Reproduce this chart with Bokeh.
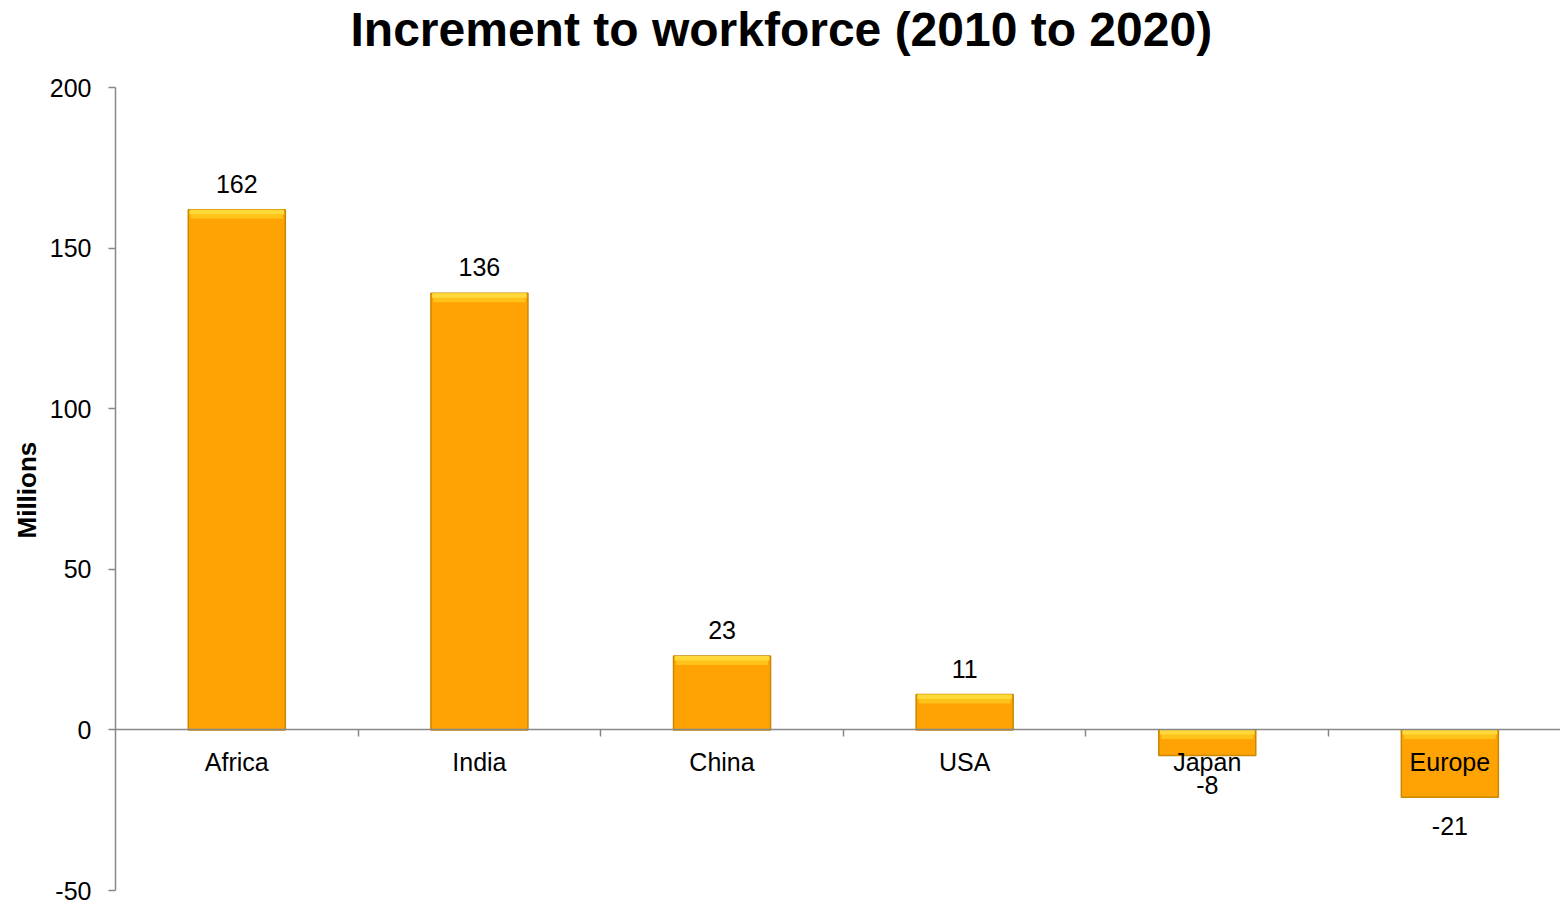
from bokeh.plotting import figure
from bokeh.models import ColumnDataSource, FixedTicker, LinearAxis, Range1d, Title
from bokeh.embed import file_html
from bokeh.resources import INLINE
from bokeh.core.properties import value

title_text = "Increment to workforce (2010 to 2020)"
y_label = "Millions"
categories = ["Africa", "India", "China", "USA", "Japan", "Europe"]
increments = [162, 136, 23, 11, -8, -21]
y_ticks = [-50, 0, 50, 100, 150, 200]

FONT = "Liberation Sans"
x_pos = [i + 0.5 for i in range(len(categories))]
labels = [str(v) for v in increments]
label_offsets = [-17 if v >= 0 else 20 for v in increments]
label_baselines = ["bottom" if v >= 0 else "top" for v in increments]
edge = [v if v >= 0 else 0 for v in increments]
hl1_bottom = [t - 1.4 for t in edge]
hl2_bottom = [t - 2.8 for t in edge]

src = ColumnDataSource(dict(x=x_pos, top=increments, label=labels, yoff=label_offsets,
                            base=label_baselines, edge=edge, hl1b=hl1_bottom, hl2b=hl2_bottom))

p = figure(width=1560, height=905, output_backend="svg", toolbar_location=None,
           x_range=Range1d(0, 5.956), y_range=Range1d(-50, 210),
           min_border_left=115, min_border_right=0, min_border_top=0, min_border_bottom=15,
           x_axis_location=None, title=title_text)
p.title.text_font = FONT
p.title.text_font_size = "48px"
p.title.text_font_style = "bold"
p.title.text_color = "black"
p.title.align = "left"
p.title.offset = 235
p.title.standoff = 0
p.outline_line_color = None
p.xgrid.visible = False
p.ygrid.visible = False
p.background_fill_color = "white"
p.border_fill_color = "white"

# bars
p.vbar(x="x", top="top", bottom=0, width=0.4, source=src,
       fill_color="#FFA305", line_color="#C98800", line_width=1.5)
# bevel highlight at the top edge
p.vbar(x="x", top="edge", bottom="hl2b", width=0.38, source=src,
       fill_color="#FFC21A", line_color=None)
p.vbar(x="x", top="edge", bottom="hl1b", width=0.39, source=src,
       fill_color="#FFD93A", line_color=None)

# value labels
p.text(x="x", y="top", text="label", source=src, y_offset="yoff", text_baseline="base",
       text_align="center", text_font=value(FONT), text_font_size="25px", text_color="black")

# y axis
yax = p.yaxis[0]
yax.ticker = FixedTicker(ticks=y_ticks)
yax.bounds = (min(y_ticks), max(y_ticks))
yax.major_label_overrides = {t: str(t) for t in y_ticks}
yax.minor_tick_line_color = None
yax.major_tick_in = 0
yax.major_tick_out = 7
yax.axis_line_color = "#878787"
yax.major_tick_line_color = "#878787"
yax.axis_line_width = 1.5
yax.major_tick_line_width = 1.5
yax.major_label_text_font = FONT
yax.major_label_text_font_size = "25px"
yax.major_label_text_color = "black"
yax.major_label_standoff = 17

# y axis title, placed along the -50..200 span
p.add_layout(Title(text=y_label, align="left", offset=352, standoff=10,
                   text_font=FONT, text_font_size="26px", text_font_style="bold",
                   text_color="black"), "left")

# x axis line + boundary ticks at zero
xb = LinearAxis(fixed_location=0, ticker=FixedTicker(ticks=[1, 2, 3, 4, 5]))
xb.major_label_text_font_size = "0px"
xb.major_label_text_alpha = 0
xb.minor_tick_line_color = None
xb.major_tick_in = 0
xb.major_tick_out = 7
xb.axis_line_color = "#878787"
xb.major_tick_line_color = "#878787"
xb.axis_line_width = 1.5
xb.major_tick_line_width = 1.5
p.add_layout(xb, "below")

# category labels
xl = LinearAxis(fixed_location=0, ticker=FixedTicker(ticks=x_pos),
                major_label_overrides={x: c for x, c in zip(x_pos, categories)})
xl.axis_line_color = None
xl.major_tick_line_color = None
xl.minor_tick_line_color = None
xl.major_tick_out = 0
xl.major_tick_in = 0
xl.major_label_standoff = 18
xl.major_label_text_font = FONT
xl.major_label_text_font_size = "25px"
xl.major_label_text_color = "black"
p.add_layout(xl, "below")

open("out.html", "w").write(file_html(p, INLINE))
